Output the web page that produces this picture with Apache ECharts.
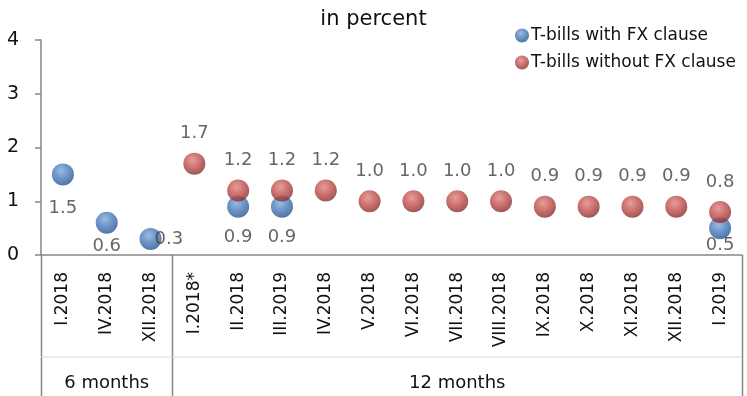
<!DOCTYPE html>
<html>
<head>
<meta charset="utf-8">
<script src="https://cdn.jsdelivr.net/npm/echarts@6/dist/echarts.min.js"></script>
<style>
  html, body { margin: 0; padding: 0; background: #ffffff; }
  #chart { width: 747px; height: 396px; }
</style>
</head>
<body>
<div id="chart"></div>
<script>
// Auction categories (6-month and 12-month T-bills)
const categories = ['I.2018', 'IV.2018', 'XII.2018', 'I.2018*', 'II.2018', 'III.2019', 'IV.2018',
  'V.2018', 'VI.2018', 'VII.2018', 'VIII.2018', 'IX.2018', 'X.2018', 'XI.2018', 'XII.2018', 'I.2019'];
const withFxClause = [1.5, 0.6, 0.3, null, 0.9, 0.9, null, null, null, null, null, null, null, null, null, 0.5];
const withoutFxClause = [null, null, null, 1.7, 1.2, 1.2, 1.2, 1.0, 1.0, 1.0, 1.0, 0.9, 0.9, 0.9, 0.9, 0.8];
const seriesNames = ['T-bills with FX clause', 'T-bills without FX clause'];
const maturityGroups = [
  { name: '6 months', from: 0, to: 3 },
  { name: '12 months', from: 3, to: 16 }
];
const yTicks = [0, 1, 2, 3, 4];

const FONT = '"DejaVu Sans", Verdana, sans-serif';
const AXIS_GREY = '#868686';

// Label placement tweaks for the blue series (kept inside the plot area)
const blueLabelTweaks = {
  0: { distance: 14 },
  1: { distance: 4 },
  2: { position: 'right', distance: -7 },
  15: { distance: -3 }
};

function sphere(light, base, dark) {
  return new echarts.graphic.RadialGradient(0.42, 0.34, 0.66, [
    { offset: 0, color: light },
    { offset: 0.55, color: base },
    { offset: 1, color: dark }
  ]);
}
const blueBall = sphere('#82a9db', '#4578ba', '#2a558d');
const redBall = sphere('#de8583', '#bf4c49', '#85302d');

const chart = echarts.init(document.getElementById('chart'), null, { renderer: 'canvas' });

const valueLabel = {
  show: true,
  fontFamily: FONT,
  fontSize: 18,
  color: '#404040',
  formatter: p => Number(p.value).toFixed(1)
};

const blueData = withFxClause.map((v, i) => {
  if (v === null) return null;
  const t = blueLabelTweaks[i];
  return t ? { value: v, label: Object.assign({}, t) } : v;
});

const option = {
  animation: false,
  backgroundColor: '#ffffff',
  title: {
    text: 'in percent',
    left: 'center',
    top: 4,
    textStyle: { fontFamily: FONT, fontSize: 21, fontWeight: 'normal', color: '#111111' }
  },
  legend: {
    orient: 'vertical',
    left: 510,
    top: 22,
    itemWidth: 14,
    itemHeight: 14,
    itemGap: 10,
    icon: 'circle',
    textStyle: { fontFamily: FONT, fontSize: 17, color: '#111111', padding: [0, 0, 0, -3] },
    data: seriesNames
  },
  grid: { left: 41, right: 5, top: 40, bottom: 141, containLabel: false },
  xAxis: {
    type: 'category',
    data: categories,
    boundaryGap: true,
    axisLine: { show: true, lineStyle: { color: AXIS_GREY, width: 1.5 } },
    axisTick: { show: false },
    axisLabel: {
      rotate: 90,
      interval: 0,
      margin: 17,
      fontFamily: FONT,
      fontSize: 17,
      color: '#111111'
    },
    splitLine: { show: false }
  },
  yAxis: {
    type: 'value',
    min: yTicks[0],
    max: yTicks[yTicks.length - 1],
    interval: 1,
    axisLine: { show: true, lineStyle: { color: AXIS_GREY, width: 1.5 } },
    axisTick: { show: true, length: 6, lineStyle: { color: AXIS_GREY, width: 1.5 } },
    axisLabel: { margin: 22, fontFamily: FONT, fontSize: 19, color: '#111111' },
    splitLine: { show: false }
  },
  series: [
    {
      name: seriesNames[0],
      type: 'scatter',
      symbol: 'circle',
      symbolSize: 22,
      itemStyle: { color: blueBall },
      label: Object.assign({}, valueLabel, { position: 'bottom', distance: 11 }),
      data: blueData,
      z: 2
    },
    {
      name: seriesNames[1],
      type: 'scatter',
      symbol: 'circle',
      symbolSize: 22,
      itemStyle: { color: redBall },
      label: Object.assign({}, valueLabel, { position: 'top', distance: 10 }),
      data: withoutFxClause,
      z: 3
    }
  ]
};

chart.setOption(option);

// Maturity group frame below the category labels
function drawGroupFrame() {
  const c0 = chart.convertToPixel({ xAxisIndex: 0 }, 0);
  const c1 = chart.convertToPixel({ xAxisIndex: 0 }, 1);
  const band = c1 - c0;
  const edge = i => c0 - band / 2 + i * band;
  const yBase = chart.convertToPixel({ yAxisIndex: 0 }, 0);
  const bottom = chart.getHeight();
  const rowLine = yBase + 102;
  const rowText = yBase + 128;

  const elements = [];
  const edges = new Set();
  maturityGroups.forEach(g => { edges.add(g.from); edges.add(g.to); });
  edges.forEach(i => {
    const x = Math.round(edge(i)) + 0.5;
    elements.push({
      type: 'line', silent: true,
      shape: { x1: x, y1: yBase, x2: x, y2: bottom },
      style: { stroke: AXIS_GREY, lineWidth: 1.5 }
    });
  });
  elements.push({
    type: 'line', silent: true,
    shape: { x1: edge(0), y1: rowLine, x2: edge(categories.length), y2: rowLine },
    style: { stroke: '#d9d9d9', lineWidth: 1 }
  });
  maturityGroups.forEach(g => {
    elements.push({
      type: 'text', silent: true,
      x: (edge(g.from) + edge(g.to)) / 2,
      y: rowText,
      style: {
        text: g.name,
        fontFamily: FONT,
        fontSize: 18,
        fill: '#111111',
        align: 'center',
        verticalAlign: 'middle'
      }
    });
  });
  chart.setOption({ graphic: { elements: elements } });
}
drawGroupFrame();
</script>
</body>
</html>
